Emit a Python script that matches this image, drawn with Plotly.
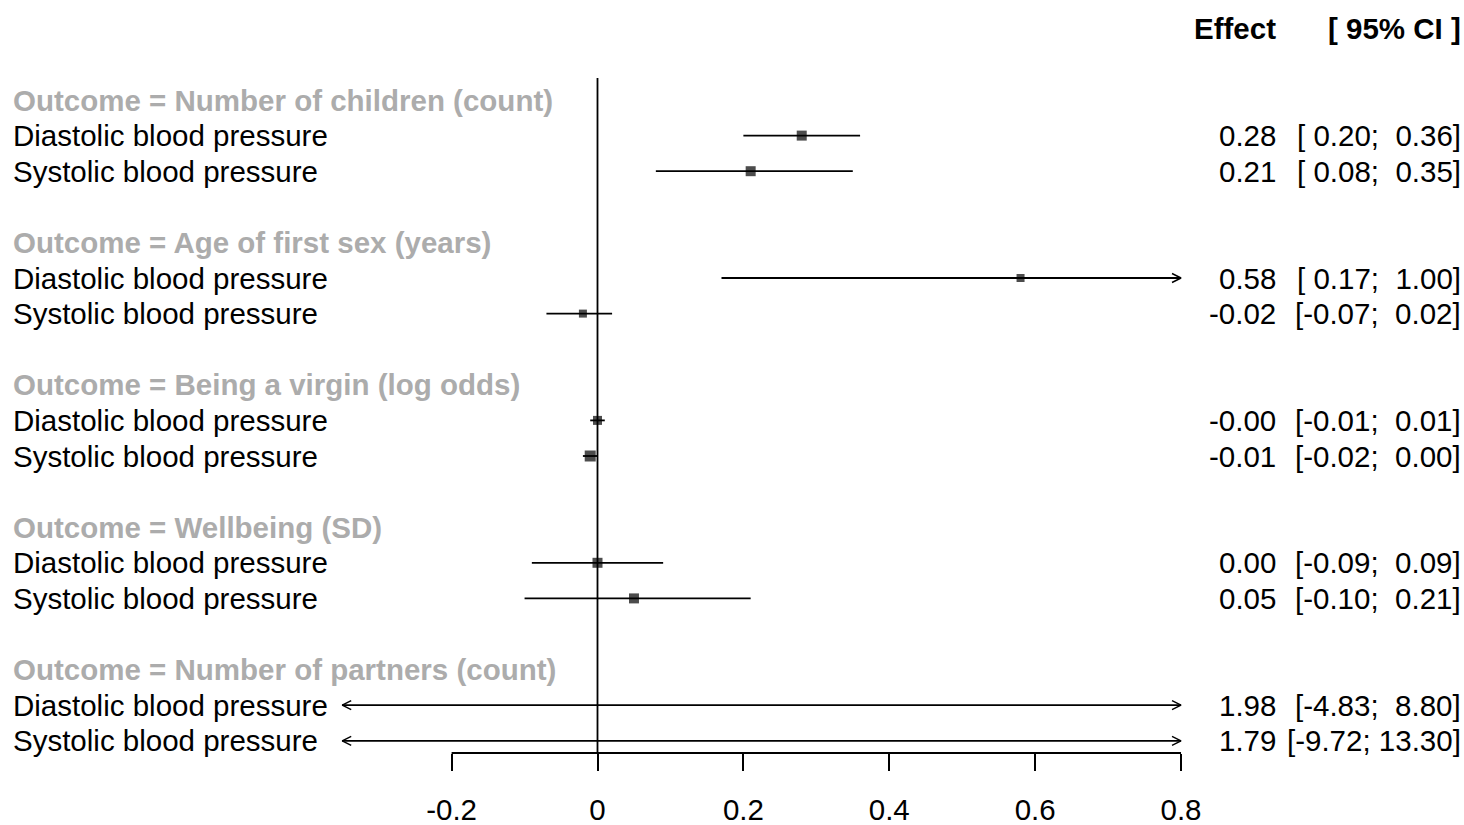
import plotly.graph_objects as go

# ---------------- data ----------------
groups = ["Number of children (count)", "Age of first sex (years)",
          "Being a virgin (log odds)", "Wellbeing (SD)", "Number of partners (count)"]
exposures = ["Diastolic blood pressure", "Systolic blood pressure"]
effect = [0.28, 0.21, 0.58, -0.02, -0.00, -0.01, 0.00, 0.05, 1.98, 1.79]
lower = [0.20, 0.08, 0.17, -0.07, -0.01, -0.02, -0.09, -0.10, -4.83, -9.72]
upper = [0.36, 0.35, 1.00, 0.02, 0.01, 0.00, 0.09, 0.21, 8.80, 13.30]
tick_vals = [-0.2, 0, 0.2, 0.4, 0.6, 0.8]
tick_text = ["-0.2", "0", "0.2", "0.4", "0.6", "0.8"]

# ---------------- style ----------------
FONT = "Liberation Sans, Arial, sans-serif"
FS = 29.5
GRAY = "rgb(172,172,172)"
W, H = 1464, 825
PX0, PXU = 597.5, 729.4          # pixel of x=0, pixels per unit
ROW0, ROWH = 100.0, 35.6          # pixel of first header row, row height
AXIS_PX = 753
XLIM = (-0.35, 0.8)
sq_size = [10, 10, 8, 8, 9, 11, 10, 10, 0, 0]
ARW_DX, ARW_DY = 9 / PXU, 4.5 / ROWH   # arrowhead half-size in data units

x_range = [(0 - PX0) / PXU, (W - PX0) / PXU]
y_range = [(AXIS_PX - ROW0) / ROWH, (0 - ROW0) / ROWH]
def xpaper(px):
    return px / W

# row positions: header, row, row, blank
hdr_y, row_y, row_lab = [], [], []
k = 0
for g in groups:
    hdr_y.append(k)
    for e in exposures:
        k += 1
        row_y.append(k)
        row_lab.append(e)
    k += 2

fig = go.Figure()

# CI lines (clipped to plotting limits) and open arrowheads where clipped
lx, ly = [], []
ax_, ay_ = [], []
for lo, hi, y in zip(lower, upper, row_y):
    a, b = max(lo, XLIM[0]), min(hi, XLIM[1])
    lx += [a, b, None]
    ly += [y, y, None]
    if lo < XLIM[0]:
        ax_ += [a + ARW_DX, a, a + ARW_DX, None]
        ay_ += [y - ARW_DY, y, y + ARW_DY, None]
    if hi > XLIM[1]:
        ax_ += [b - ARW_DX, b, b - ARW_DX, None]
        ay_ += [y - ARW_DY, y, y + ARW_DY, None]
fig.add_trace(go.Scatter(x=lx, y=ly, mode="lines",
                         line=dict(color="black", width=1.8),
                         hoverinfo="skip", showlegend=False))
fig.add_trace(go.Scatter(x=ax_, y=ay_, mode="lines",
                         line=dict(color="black", width=1.4),
                         hoverinfo="skip", showlegend=False))

# point estimates
px_, py_, ps_ = [], [], []
for e, y, s in zip(effect, row_y, sq_size):
    if XLIM[0] <= e <= XLIM[1]:
        px_.append(e); py_.append(y); ps_.append(s)
fig.add_trace(go.Scatter(x=px_, y=py_, mode="markers",
                         marker=dict(symbol="square", color="black", size=ps_,
                                     line=dict(width=0)),
                         showlegend=False))

# reference line at zero
fig.add_shape(type="line", x0=0, x1=0, y0=-0.62, y1=y_range[0], xref="x", yref="y",
              line=dict(color="black", width=1.8))
# axis line
fig.add_shape(type="line", x0=tick_vals[0], x1=tick_vals[-1], y0=0, y1=0,
              xref="x", yref="paper", line=dict(color="black", width=1.8))

# text: headers and labels
for g, y in zip(groups, hdr_y):
    fig.add_annotation(x=xpaper(11), y=y, xref="paper", yref="y", text="<b>Outcome = " + g + "</b>",
                       showarrow=False, xanchor="left", yanchor="middle",
                       font=dict(family=FONT, size=FS, color=GRAY))
for lab, y in zip(row_lab, row_y):
    fig.add_annotation(x=xpaper(11), y=y, xref="paper", yref="y", text=lab,
                       showarrow=False, xanchor="left", yanchor="middle",
                       font=dict(family=FONT, size=FS, color="black"))

NB = "\u00a0"
for e, lo, hi, y in zip(effect, lower, upper, row_y):
    fig.add_annotation(x=xpaper(1278), y=y, xref="paper", yref="y", text=f"{e:.2f}",
                       showarrow=False, xanchor="right", yanchor="middle",
                       font=dict(family=FONT, size=FS, color="black"))
    ci = ("[" + f"{lo:5.2f}" + ";" + f"{hi:6.2f}" + "]").replace(" ", NB)
    fig.add_annotation(x=xpaper(1463), y=y, xref="paper", yref="y", text=ci,
                       showarrow=False, xanchor="right", yanchor="middle",
                       font=dict(family=FONT, size=FS, color="black"))

fig.add_annotation(x=xpaper(1278), y=-2.02, xref="paper", yref="y", text="<b>Effect</b>",
                   showarrow=False, xanchor="right", yanchor="middle",
                   font=dict(family=FONT, size=FS, color="black"))
fig.add_annotation(x=xpaper(1463), y=-2.02, xref="paper", yref="y",
                   text="<b>[" + NB + "95% CI" + NB + "]</b>",
                   showarrow=False, xanchor="right", yanchor="middle",
                   font=dict(family=FONT, size=FS, color="black"))

fig.update_layout(
    width=W, height=H, margin=dict(l=0, r=0, t=0, b=H - AXIS_PX),
    paper_bgcolor="white", plot_bgcolor="white", showlegend=False,
    font=dict(family=FONT, size=FS, color="black"),
    xaxis=dict(range=x_range, tickvals=tick_vals, ticktext=tick_text,
               ticks="outside", ticklen=17, tickwidth=1.8, tickcolor="black",
               showline=False, showgrid=False, zeroline=False,
               tickfont=dict(family=FONT, size=FS, color="black"),
               ticklabelstandoff=14, fixedrange=True),
    yaxis=dict(range=y_range, visible=False, showgrid=False, zeroline=False,
               fixedrange=True),
)

fig.write_html("out.html", config={"displayModeBar": False},
               post_script="document.body.style.margin='0';document.body.style.overflow='hidden';")
